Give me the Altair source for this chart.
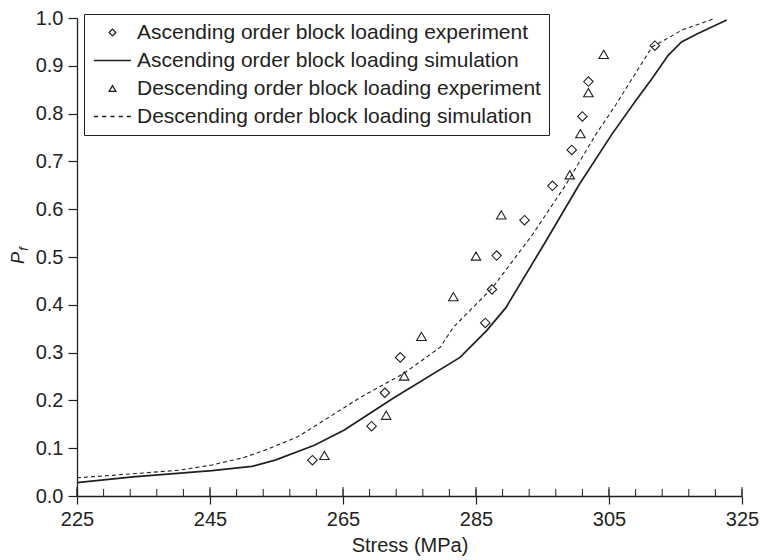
import altair as alt
import pandas as pd

INK = "#231f20"
FONT = "Liberation Sans"

series_names = [
    "Ascending order block loading experiment",
    "Ascending order block loading simulation",
    "Descending order block loading experiment",
    "Descending order block loading simulation",
]

# Ascending order block loading experiment (diamonds)
asc_exp_x = [260.4, 269.3, 271.3, 273.6, 286.4, 287.4, 288.1, 292.3, 296.5, 299.4, 301.0, 301.9, 311.9]
asc_exp_y = [0.075, 0.146, 0.216, 0.290, 0.362, 0.432, 0.503, 0.577, 0.649, 0.724, 0.794, 0.867, 0.942]

# Descending order block loading experiment (triangles)
desc_exp_x = [262.2, 271.5, 274.2, 276.8, 281.6, 285.0, 288.8, 299.1, 300.7, 301.9, 304.2]
desc_exp_y = [0.085, 0.169, 0.251, 0.334, 0.417, 0.502, 0.588, 0.672, 0.758, 0.844, 0.924]

# Ascending order block loading simulation (solid line)
asc_sim_x = [225, 233.4, 245.3, 251.3, 254.8, 260.7, 265.2, 272.6, 282.6, 286.6, 289.5,
             295.5, 300.5, 305.4, 308.9, 311.4, 313.9, 315.9, 318.3, 322.7]
asc_sim_y = [0.028, 0.040, 0.053, 0.062, 0.075, 0.106, 0.138, 0.205, 0.290, 0.346, 0.394,
             0.533, 0.651, 0.756, 0.825, 0.872, 0.922, 0.950, 0.967, 0.996]

# Descending order block loading simulation (dashed line)
desc_sim_x = [225, 232.0, 240.4, 245.3, 250.0, 253.3, 258.2, 262.0, 267.7, 274.1, 279.6,
              281.6, 287.5, 293.5, 298.5, 303.0, 306.0, 311.5, 313.9, 316.0, 320.7]
desc_sim_y = [0.038, 0.045, 0.054, 0.065, 0.080, 0.096, 0.124, 0.157, 0.207, 0.256, 0.311,
              0.353, 0.436, 0.547, 0.651, 0.756, 0.818, 0.940, 0.958, 0.975, 0.998]

x_major = [225, 245, 265, 285, 305, 325]
x_minor = list(range(225, 326, 4))
y_ticks = [0.0, 0.1, 0.2, 0.3, 0.4, 0.5, 0.6, 0.7, 0.8, 0.9, 1.0]

x_title = "Stress (MPa)"
y_title_main = "P"
y_title_sub = "f"

W, H = 665, 478

pts = pd.DataFrame({
    "stress": asc_exp_x + desc_exp_x,
    "pf": asc_exp_y + desc_exp_y,
    "series": [series_names[0]] * len(asc_exp_x) + [series_names[2]] * len(desc_exp_x),
})
asc_line = pd.DataFrame({"stress": asc_sim_x, "pf": asc_sim_y})
desc_line = pd.DataFrame({"stress": desc_sim_x, "pf": desc_sim_y})

solid_path = "M-5.5,0H5.5"
dashed_path = "M-5.5,0H-4.25M-3.1,0H-1.85M-0.62,0H0.62M1.85,0H3.1M4.25,0H5.5"

xs = alt.Scale(domain=[225, 325], nice=False, zero=False)
ys = alt.Scale(domain=[0, 1], nice=False, zero=False)

x_axis = alt.Axis(values=x_major, format="d", title=x_title, grid=False, tickSize=8,
                  labelPadding=5, titlePadding=6, labelFlush=False)
y_axis = alt.Axis(values=y_ticks, format=".1f", title=None, grid=False, tickSize=9,
                  labelPadding=5, labelFlush=False)

base_x = alt.X("stress:Q", scale=xs, axis=x_axis)
base_y = alt.Y("pf:Q", scale=ys, axis=y_axis)

points = alt.Chart(pts).mark_point(filled=False, size=90, strokeWidth=1.1, color=INK, opacity=1).encode(
    x=base_x,
    y=base_y,
    shape=alt.Shape(
        "series:N",
        scale=alt.Scale(domain=series_names, range=["diamond", solid_path, "triangle-up", dashed_path]),
        legend=alt.Legend(
            title=None, orient="none", legendX=7, legendY=-4,
            strokeColor=INK, padding=8, symbolSize=45, symbolStrokeWidth=1.3,
            symbolStrokeColor=INK, symbolFillColor="transparent",
            labelFont=FONT, labelFontSize=21, labelColor=INK, labelLimit=0,
            symbolOffset=10, labelOffset=14, rowPadding=6,
        ),
    ),
)

solid = alt.Chart(asc_line).mark_line(color=INK, strokeWidth=1.7).encode(x=base_x, y=base_y)
dashed = alt.Chart(desc_line).mark_line(color=INK, strokeWidth=1.1, strokeDash=[4, 3]).encode(x=base_x, y=base_y)

minor = alt.Chart(pd.DataFrame({"v": x_minor})).mark_rule(color=INK, strokeWidth=1).encode(
    x=alt.X("v:Q", scale=xs), y=alt.value(H - 7), y2=alt.value(H)
)
major = alt.Chart(pd.DataFrame({"v": x_major})).mark_rule(color=INK, strokeWidth=1).encode(
    x=alt.X("v:Q", scale=xs), y=alt.value(H - 9), y2=alt.value(H)
)

ttl_p = alt.Chart(pd.DataFrame({"t": [y_title_main]})).mark_text(
    angle=270, font=FONT, fontSize=18, fontStyle="italic", color=INK
).encode(text="t:N", x=alt.value(-58), y=alt.value(240))
ttl_f = alt.Chart(pd.DataFrame({"t": [y_title_sub]})).mark_text(
    angle=270, font=FONT, fontSize=13, fontStyle="italic", color=INK
).encode(text="t:N", x=alt.value(-53), y=alt.value(231))

chart = alt.layer(minor, major, dashed, solid, points, ttl_p, ttl_f).properties(
    width=W, height=H,
    autosize=alt.AutoSizeParams(type="none"),
    padding={"left": 69, "top": 10, "right": 17, "bottom": 62},
).configure_view(stroke=None).configure_axis(
    domainColor=INK, domainWidth=1.3, tickColor=INK, tickWidth=1.2,
    labelFont=FONT, labelFontSize=20, labelColor=INK,
    titleFont=FONT, titleFontSize=20, titleColor=INK, titleFontWeight="normal",
)

chart.save("out.html", embed_options={"renderer": "svg", "actions": False})
